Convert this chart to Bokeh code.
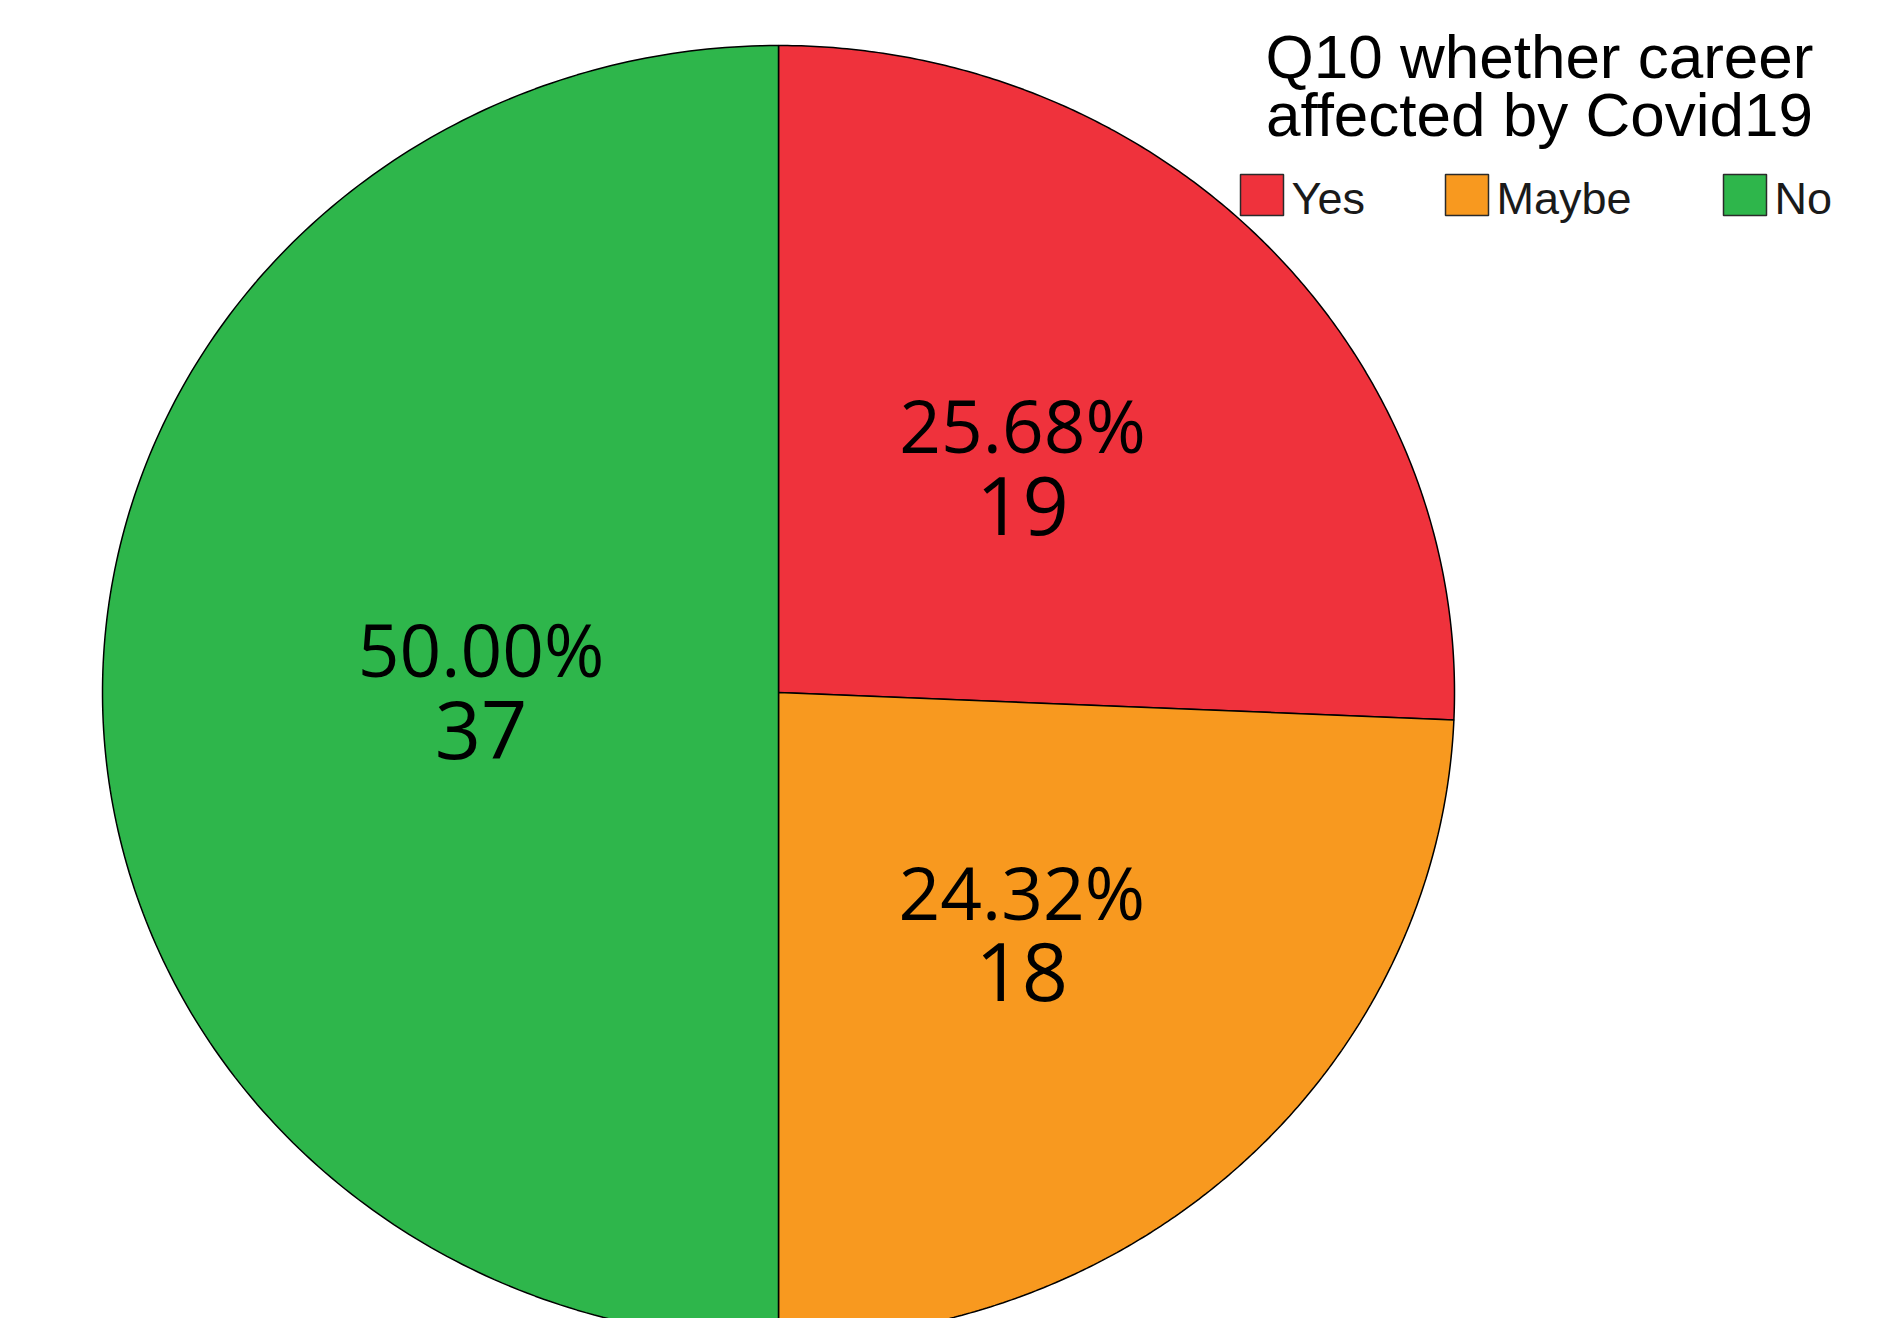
import numpy as np
from bokeh.plotting import figure
from bokeh.models import Range1d
from bokeh.embed import file_html
from bokeh.resources import INLINE
from bokeh.core.properties import value

# ---- data ----
categories = ["Yes", "Maybe", "No"]
counts = [19, 18, 37]
title_lines = ["Q10 whether career", "affected by Covid19"]

# ---- styles / layout ----
colors = ["#EF323C", "#F8991F", "#2EB64B"]
W, H = 1877, 1318
CX, CY, RX, RY = 778, 692, 676, 647          # pie centre and radii (page px)
label_r = [0.50, 0.52, 0.44]                  # label distance as share of radius
legend_left = [1240, 1445, 1723]
LEG_TOP, LEG_BOT, LEG_W = 174, 215, 43
PCT_FS, CNT_FS, TTL_FS, LEG_FS = 73, 81, 62, 45
BASE_FIX = 0.37                               # renderer baseline correction (em)

p = figure(width=W, height=H, output_backend="svg", toolbar_location=None,
           x_range=Range1d(0, W), y_range=Range1d(H, 0),
           x_axis_location=None, y_axis_location=None, min_border=0)
p.grid.visible = False
p.outline_line_color = None
p.background_fill_color = "white"
p.border_fill_color = "white"

total = sum(counts)
frac = np.array(counts, dtype=float) / total
ends = np.cumsum(frac) * 2 * np.pi
starts = ends - frac * 2 * np.pi

xs, ys = [], []
for a0, a1 in zip(starts, ends):
    t = np.linspace(a0, a1, 240)
    xs.append([CX] + list(CX + RX * np.sin(t)))
    ys.append([CY] + list(CY - RY * np.cos(t)))
p.patches(xs, ys, fill_color=colors, line_color="black", line_width=1.5)

# slice labels
mid = (starts + ends) / 2
ax = [CX + RX * f * np.sin(m) for f, m in zip(label_r, mid)]
ay = [CY - RY * f * np.cos(m) for f, m in zip(label_r, mid)]
pct_text = [f"{c / total * 100:.2f}%" for c in counts]
cnt_text = [str(c) for c in counts]
p.text(x=ax, y=[v - 17 - BASE_FIX * PCT_FS for v in ay], text=pct_text,
       text_font=value("Open Sans"), text_font_size=f"{PCT_FS}px",
       text_align="center", text_baseline="alphabetic", text_color="black")
p.text(x=ax, y=[v + 67 - BASE_FIX * CNT_FS for v in ay], text=cnt_text,
       text_font=value("Open Sans"), text_font_size=f"{CNT_FS}px",
       text_align="center", text_baseline="alphabetic", text_color="black")

# legend title
p.text(x=[1539, 1539], y=[79 - BASE_FIX * TTL_FS, 137 - BASE_FIX * TTL_FS],
       text=title_lines,
       text_font=value("Liberation Sans"), text_font_size=f"{TTL_FS}px",
       text_align="center", text_baseline="alphabetic", text_color="black")

# legend entries
p.quad(left=legend_left, right=[l + LEG_W for l in legend_left],
       top=[LEG_TOP] * 3, bottom=[LEG_BOT] * 3,
       fill_color=colors, line_color="#2a2a2a", line_width=1.5)
p.text(x=[l + 51 for l in legend_left], y=[LEG_BOT - BASE_FIX * LEG_FS] * 3,
       text=categories,
       text_font=value("Liberation Sans"), text_font_size=f"{LEG_FS}px",
       text_align="left", text_baseline="alphabetic", text_color="#1a1a1a")

open("out.html", "w").write(file_html(p, INLINE))
